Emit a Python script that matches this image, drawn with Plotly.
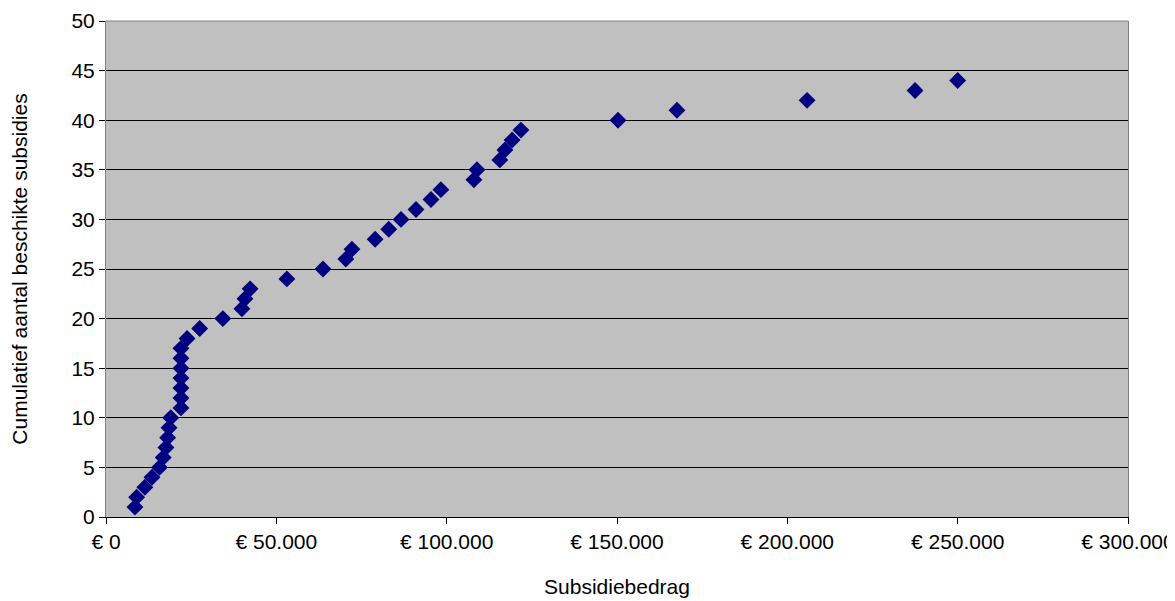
import plotly.graph_objects as go

# Subsidy amounts (euro), sorted, with cumulative count
bedrag = [8500, 9000, 11400, 13500, 15700, 16800, 17600, 18100, 18500, 19000,
          22000, 22000, 22000, 22000, 22000, 22000, 22000, 23800, 27500, 34300,
          39900, 40800, 42300, 53100, 63700, 70400, 72200, 79000, 83000, 86600,
          91000, 95400, 98300, 108000, 108900, 115600, 117100, 119200, 121800, 150300,
          167600, 205800, 237500, 250000]
cumulatief = list(range(1, len(bedrag) + 1))

x_tickvals = [0, 50000, 100000, 150000, 200000, 250000, 300000]
x_ticktext = ["€ 0", "€ 50.000", "€ 100.000", "€ 150.000", "€ 200.000", "€ 250.000", "€ 300.000"]

fig = go.Figure()
fig.add_trace(go.Scatter(
    x=bedrag, y=cumulatief, mode="markers",
    marker=dict(symbol="diamond", size=13, color="#000080", line=dict(width=0)),
    showlegend=False,
))

font = dict(family="Liberation Sans, Arial, sans-serif", size=21, color="black")

fig.update_layout(
    width=1175, height=601,
    margin=dict(l=98, r=55, t=13, b=92, autoexpand=False),
    paper_bgcolor="white", plot_bgcolor="#C0C0C0",
    font=font,
    xaxis=dict(
        range=[0, 300000], tickvals=x_tickvals, ticktext=x_ticktext,
        showgrid=False, zeroline=False, automargin=False,
        showline=True, linecolor="black", linewidth=1,
        ticks="outside", ticklen=6, tickcolor="black",
        tickfont=font,
        title=dict(text="Subsidiebedrag", font=font, standoff=27),
    ),
    yaxis=dict(
        range=[0, 50], dtick=5, tick0=0, automargin=False,
        showgrid=True, gridcolor="black", gridwidth=1, zeroline=False,
        showline=True, linecolor="#808080", linewidth=1, mirror=True,
        ticks="outside", ticklen=6, tickcolor="black",
        tickfont=font,
        title=dict(text="Cumulatief aantal beschikte subsidies", font=font, standoff=38),
    ),
    shapes=[dict(type="line", xref="paper", yref="paper", x0=0, x1=1, y0=1, y1=1,
                 line=dict(color="#808080", width=1))],
)

fig.write_html("out.html")
